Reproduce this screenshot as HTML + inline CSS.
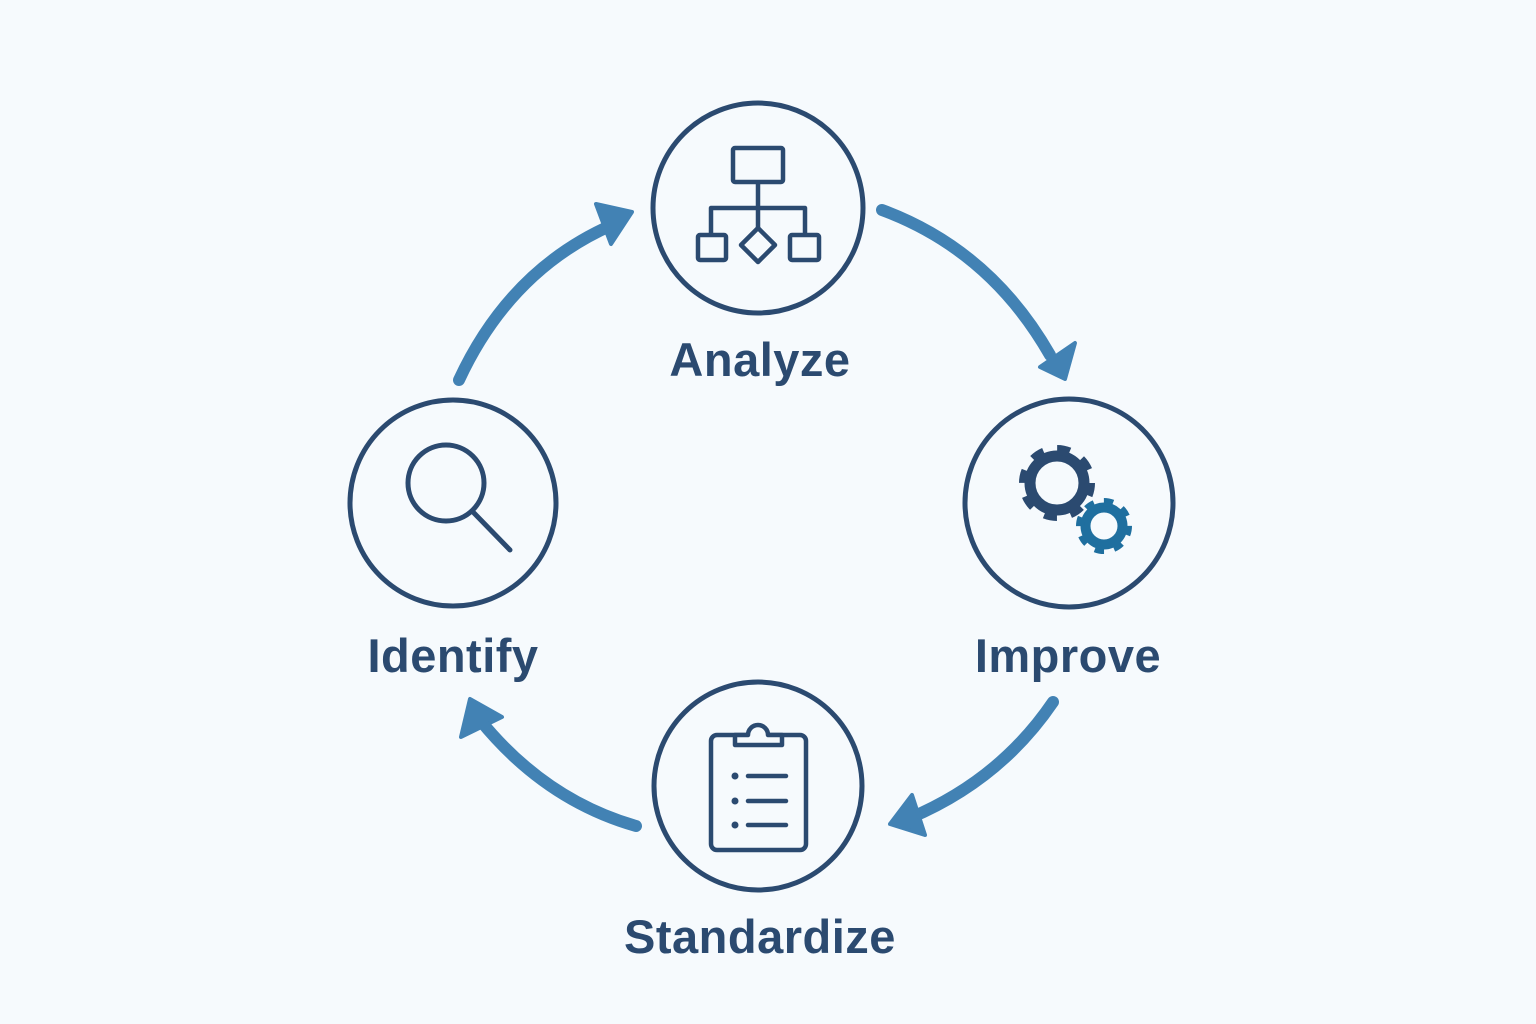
<!DOCTYPE html>
<html><head><style>body{margin:0;background:#f6fafd}svg{display:block}</style></head><body>
<svg width="1536" height="1024" viewBox="0 0 1536 1024" xmlns="http://www.w3.org/2000/svg">
<rect width="1536" height="1024" fill="#f6fafd"/>
<g fill="none" stroke="#2b4a70" stroke-width="5">
<circle cx="758" cy="208" r="105"/>
<circle cx="453" cy="503" r="103"/>
<circle cx="1069" cy="503" r="104"/>
<circle cx="758" cy="786" r="104"/>
</g>
<g fill="none" stroke="#4282b4" stroke-width="12" stroke-linecap="round">
<path d="M459 380 Q510 270 612 225"/>
<path d="M882 210 Q990 250 1050 355"/>
<path d="M1053 702 Q1000 780 910 818"/>
<path d="M636 826 Q545 800 480 720"/>
</g>
<g fill="#4282b4" stroke="#4282b4" stroke-width="4" stroke-linejoin="round">
<polygon points="596,204 632,212 611,244"/>
<polygon points="1040,367 1075,343 1065,379"/>
<polygon points="912,795 925,835 890,824"/>
<polygon points="461,737 502,717 470,699"/>
</g>
<g fill="none" stroke="#2b4a70" stroke-width="4.5" stroke-linejoin="round">
<rect x="733" y="148" width="50" height="34" rx="2"/>
<path d="M758 182V208M711 235V208H805V235M758 208V230"/>
<rect x="698" y="235" width="28" height="25" rx="2"/>
<rect x="790" y="235" width="29" height="25" rx="2"/>
<polygon points="758,228 775,245 758,262 741,245"/>
<circle cx="446" cy="483" r="38" stroke-width="5"/>
<path d="M474 513L510 550" stroke-width="5" stroke-linecap="round"/>
<rect x="711" y="735" width="95" height="115" rx="6"/>
<path d="M735 745V735H748A10 10 0 0 1 768 735H782V745Z" fill="#f6fafd"/>
<path d="M748 776H786M748 801H786M748 825H786" stroke-linecap="round"/>
</g>
<g fill="#2b4a70"><circle cx="735" cy="776" r="3.5"/><circle cx="735" cy="801" r="3.5"/><circle cx="735" cy="825" r="3.5"/></g>
<g fill="none">
<circle cx="1057" cy="483" r="27" stroke="#2b4a70" stroke-width="11"/>
<circle cx="1057" cy="483" r="33" stroke="#2b4a70" stroke-width="10" stroke-dasharray="12.5 13.4"/>
<circle cx="1104" cy="526" r="18.5" stroke="#1f6f9f" stroke-width="10"/>
<circle cx="1104" cy="526" r="24" stroke="#1f6f9f" stroke-width="8" stroke-dasharray="9 9.8"/>
</g>
<g font-family="Liberation Sans, sans-serif" font-weight="bold" font-size="47" fill="#2b4a70" text-anchor="middle" letter-spacing="0.5">
<text x="760" y="376">Analyze</text>
<text x="453" y="672">Identify</text>
<text x="1068" y="672">Improve</text>
<text x="760" y="953">Standardize</text>
</g>
</svg>
</body></html>
